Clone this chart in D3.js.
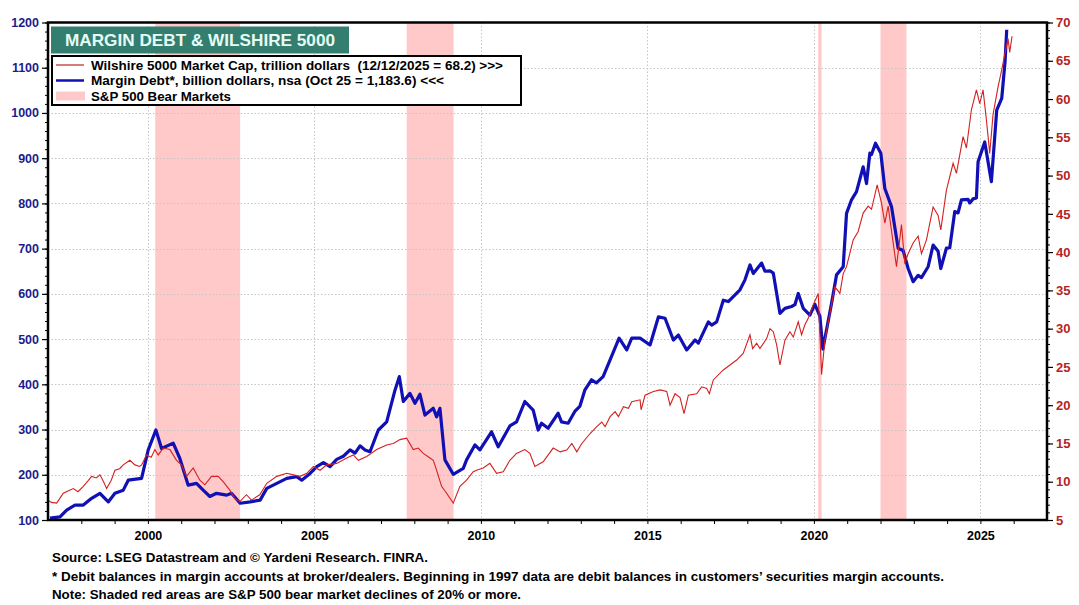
<!DOCTYPE html>
<html><head><meta charset="utf-8">
<script src="https://cdnjs.cloudflare.com/ajax/libs/d3/7.8.5/d3.min.js"></script>
<style>
html,body{margin:0;padding:0;background:#fff;}
svg{display:block;}
text{font-family:"Liberation Sans",Arial,sans-serif;}
</style></head>
<body><svg id="chart" width="1079" height="605"></svg>
<script>
// ---- DATA ----
const xTicks = [2000, 2005, 2010, 2015, 2020, 2025];
const leftTicks = [100,200,300,400,500,600,700,800,900,1000,1100,1200];
const rightTicks = [5,10,15,20,25,30,35,40,45,50,55,60,65,70];
const bearMarkets = [[2000.22,2002.77],[2007.77,2009.18],[2020.13,2020.23],[2022.0,2022.78]];
// Margin debt, billion dollars (left axis) [decimal year, value]
const marginDebt = [
[1997.06,104],[1997.36,107],[1997.56,122],[1997.81,133],[1998.06,133],[1998.31,148],[1998.56,159],[1998.81,140],
[1999.01,159],[1999.26,166],[1999.41,188],[1999.81,192],[2000.01,255],[2000.24,299],[2000.41,258],[2000.76,270],
[2000.96,236],[2001.21,177],[2001.46,181],[2001.66,166],[2001.86,152],[2002.06,159],[2002.37,155],[2002.51,159],
[2002.77,137],[2003.07,140],[2003.37,144],[2003.57,170],[2003.87,181],[2004.17,192],[2004.47,196],[2004.62,188],
[2004.87,203],[2005.07,218],[2005.27,227],[2005.47,218],[2005.67,234],[2005.87,241],[2006.07,255],[2006.22,248],
[2006.37,264],[2006.52,255],[2006.67,251],[2006.92,299],[2007.17,317],[2007.42,387],[2007.55,417],[2007.67,362],
[2007.87,380],[2008.02,358],[2008.17,378],[2008.32,332],[2008.57,347],[2008.67,328],[2008.77,347],[2008.92,233],
[2009.17,201],[2009.47,214],[2009.57,233],[2009.82,266],[2009.97,255],[2010.32,295],[2010.52,262],[2010.87,308],
[2011.07,317],[2011.32,362],[2011.57,343],[2011.72,299],[2011.82,314],[2012.02,303],[2012.32,336],[2012.42,317],
[2012.62,314],[2012.82,340],[2012.97,351],[2013.12,387],[2013.32,410],[2013.47,403],[2013.67,417],[2013.92,461],
[2014.15,502],[2014.38,476],[2014.53,502],[2014.78,502],[2015.08,487],[2015.33,549],[2015.53,546],[2015.78,498],
[2015.93,509],[2016.18,476],[2016.43,498],[2016.53,491],[2016.83,538],[2016.93,531],[2017.08,538],[2017.28,586],
[2017.43,583],[2017.78,609],[2017.93,631],[2018.08,664],[2018.18,645],[2018.43,668],[2018.53,650],[2018.68,651],
[2018.78,646],[2018.98,557],[2019.13,568],[2019.33,572],[2019.43,576],[2019.53,601],[2019.68,568],[2019.88,553],
[2020.03,577],[2020.18,550],[2020.27,478],[2020.53,579],[2020.68,642],[2020.88,660],[2020.98,778],[2021.13,808],
[2021.28,826],[2021.48,881],[2021.58,844],[2021.68,911],[2021.73,908],[2021.85,933],[2022.01,911],[2022.13,833],
[2022.33,793],[2022.53,701],[2022.68,696],[2022.83,656],[2022.98,627],[2023.13,641],[2023.23,636],[2023.43,660],
[2023.58,708],[2023.73,694],[2023.81,656],[2023.98,701],[2024.08,702],[2024.23,782],[2024.33,779],[2024.43,808],
[2024.63,809],[2024.68,801],[2024.78,810],[2024.88,812],[2024.93,892],[2025.13,936],[2025.33,848],[2025.49,1006],
[2025.64,1032],[2025.74,1113],[2025.79,1184]
];
// Wilshire 5000 market cap, trillion dollars (right axis) [decimal year, value]
const wilshire = [
[1997.0,7.6],[1997.1,7.3],[1997.26,7.2],[1997.46,8.5],[1997.6,8.8],[1997.76,9.1],[1997.9,8.7],[1998.06,9.4],
[1998.2,10.1],[1998.31,10.7],[1998.45,10.5],[1998.56,10.9],[1998.68,9.9],[1998.76,9.1],[1998.9,10.2],[1999.01,11.5],
[1999.15,11.7],[1999.26,12.2],[1999.46,12.8],[1999.61,12.2],[1999.75,12.0],[1999.81,12.2],[1999.96,13.5],[2000.1,13.2],
[2000.21,14.2],[2000.31,13.5],[2000.46,14.4],[2000.66,14.2],[2000.86,12.8],[2001.01,12.2],[2001.16,10.7],[2001.36,11.8],
[2001.56,10.2],[2001.71,9.6],[2001.91,10.7],[2002.11,10.7],[2002.26,10.0],[2002.46,8.9],[2002.61,7.8],[2002.76,7.4],
[2002.96,8.3],[2003.11,7.6],[2003.36,8.3],[2003.57,9.8],[2003.87,10.7],[2004.17,11.1],[2004.37,10.9],[2004.57,10.7],
[2004.77,11.1],[2004.97,12.0],[2005.17,11.5],[2005.37,12.2],[2005.67,12.4],[2005.97,13.1],[2006.17,13.5],[2006.32,12.8],
[2006.57,13.3],[2006.87,14.2],[2007.17,14.8],[2007.37,15.0],[2007.57,15.5],[2007.77,15.7],[2007.97,14.2],[2008.12,14.4],
[2008.27,13.7],[2008.47,13.1],[2008.57,12.8],[2008.67,11.5],[2008.82,9.4],[2008.97,8.5],[2009.17,7.2],[2009.37,9.4],
[2009.57,10.2],[2009.77,11.3],[2009.87,11.5],[2010.07,11.8],[2010.27,12.4],[2010.47,11.1],[2010.67,11.3],[2010.87,12.8],
[2011.07,13.7],[2011.32,14.2],[2011.47,13.7],[2011.62,12.0],[2011.87,12.6],[2012.17,14.4],[2012.38,13.9],[2012.58,14.15],
[2012.73,15.0],[2012.88,13.9],[2013.03,15.0],[2013.28,16.3],[2013.48,17.2],[2013.63,17.8],[2013.73,17.2],[2013.88,18.5],
[2014.03,19.15],[2014.13,18.5],[2014.28,19.8],[2014.43,19.6],[2014.53,20.45],[2014.78,20.7],[2014.81,19.4],[2014.93,21.3],
[2015.18,21.8],[2015.38,22.0],[2015.58,21.8],[2015.68,20.0],[2015.83,21.5],[2015.98,21.0],[2016.1,18.9],[2016.23,21.3],
[2016.48,21.5],[2016.63,22.4],[2016.78,22.2],[2016.86,21.5],[2016.98,23.3],[2017.28,24.6],[2017.48,25.25],[2017.68,25.9],
[2017.88,26.8],[2018.08,29.2],[2018.16,27.4],[2018.28,28.1],[2018.38,27.4],[2018.58,28.7],[2018.68,30.0],[2018.78,29.6],
[2018.88,27.9],[2018.98,25.25],[2019.13,28.5],[2019.28,29.6],[2019.38,28.9],[2019.53,30.9],[2019.63,29.2],[2019.73,30.5],
[2019.83,31.35],[2019.98,33.1],[2020.13,34.6],[2020.23,24.0],[2020.33,28.5],[2020.48,32.0],[2020.63,35.5],[2020.78,34.6],
[2020.88,37.2],[2020.98,38.1],[2021.18,41.6],[2021.33,42.7],[2021.48,45.1],[2021.63,46.0],[2021.73,45.6],[2021.9,48.8],
[2022.03,46.4],[2022.13,43.8],[2022.23,46.0],[2022.38,41.2],[2022.48,38.1],[2022.63,43.6],[2022.73,38.5],[2022.83,39.8],
[2022.98,41.2],[2023.13,42.1],[2023.23,39.8],[2023.38,41.6],[2023.58,45.9],[2023.73,44.8],[2023.81,42.9],[2023.98,48.1],
[2024.18,51.6],[2024.28,50.3],[2024.48,55.1],[2024.58,53.6],[2024.73,58.6],[2024.88,61.2],[2024.98,59.4],[2025.08,61.2],
[2025.18,57.3],[2025.28,52.9],[2025.38,58.0],[2025.53,61.6],[2025.63,63.6],[2025.73,65.8],[2025.83,67.9],[2025.88,66.1],
[2025.95,68.2]
];
const titleText = "MARGIN DEBT & WILSHIRE 5000";
const legendLabels = [
  "Wilshire 5000 Market Cap, trillion dollars  (12/12/2025 = 68.2) >>>",
  "Margin Debt*, billion dollars, nsa (Oct 25 = 1,183.6) <<<",
  "S&P 500 Bear Markets"
];
const footnotes = [
  "Source: LSEG Datastream and \u00A9 Yardeni Research. FINRA.",
  "* Debit balances in margin accounts at broker/dealers. Beginning in 1997 data are debit balances in customers\u2019 securities margin accounts.",
  "Note: Shaded red areas are S&P 500 bear market declines of 20% or more."
];

// ---- CHART ----
const svg = d3.select("#chart");
const L = 48, R = 1047, T = 22.5, B = 520;
const x = d3.scaleLinear().domain([1997, 2027]).range([L, R]);
const yL = d3.scaleLinear().domain([100, 1200]).range([B, T]);
const yR = d3.scaleLinear().domain([5, 70]).range([B, T]);

const BLUE = "#1010b4", RED = "#d42020";

// bear market bands
svg.append("g").selectAll("rect").data(bearMarkets).join("rect")
  .attr("x", d => x(d[0])).attr("width", d => x(d[1]) - x(d[0]))
  .attr("y", T).attr("height", B - T).attr("fill", "#ffc9c9");

// grid
const grid = svg.append("g").attr("stroke", "#c4c4c4").attr("stroke-width", 1).attr("stroke-dasharray", "1.5,2");
grid.selectAll("line.h").data(leftTicks.slice(1, -1)).join("line")
  .attr("x1", L).attr("x2", R).attr("y1", d => Math.round(yL(d)) + 0.5).attr("y2", d => Math.round(yL(d)) + 0.5);
grid.selectAll("line.v").data(xTicks).join("line")
  .attr("y1", T).attr("y2", B).attr("x1", d => Math.round(x(d)) + 0.5).attr("x2", d => Math.round(x(d)) + 0.5);

// lines
const lineL = d3.line().x(d => x(d[0])).y(d => yL(d[1]));
const lineR = d3.line().x(d => x(d[0])).y(d => yR(d[1]));
svg.append("path").datum(marginDebt).attr("d", lineL).attr("fill", "none")
  .attr("stroke", BLUE).attr("stroke-width", 3.2).attr("stroke-linejoin", "round");
svg.append("path").datum(wilshire).attr("d", lineR).attr("fill", "none")
  .attr("stroke", RED).attr("stroke-width", 1.1).attr("stroke-linejoin", "miter");

// axes
const axL = svg.append("g").attr("transform", `translate(${L},0)`)
  .call(d3.axisLeft(yL).tickValues(d3.range(100, 1201, 20)).tickSize(3).tickFormat(""));
axL.selectAll(".tick line").attr("stroke", "#000");
axL.select(".domain").remove();
const axL2 = svg.append("g").attr("transform", `translate(${L},0)`)
  .call(d3.axisLeft(yL).tickValues(leftTicks).tickSize(6).tickPadding(3).tickFormat(d3.format("d")));
axL2.select(".domain").remove();
axL2.selectAll(".tick line").attr("stroke", "#000").attr("stroke-width", 1.2);
axL2.selectAll("text").attr("fill", "#1c1c8c").attr("font-size", "12.5px").attr("font-weight", "bold")
  .attr("font-family", "Liberation Sans, Arial, sans-serif");

const axR = svg.append("g").attr("transform", `translate(${R},0)`)
  .call(d3.axisRight(yR).tickValues(d3.range(5, 71, 1)).tickSize(3).tickFormat(""));
axR.select(".domain").remove();
axR.selectAll(".tick line").attr("stroke", "#000");
const axR2 = svg.append("g").attr("transform", `translate(${R},0)`)
  .call(d3.axisRight(yR).tickValues(rightTicks).tickSize(6).tickPadding(3).tickFormat(d3.format("d")));
axR2.select(".domain").remove();
axR2.selectAll(".tick line").attr("stroke", "#000").attr("stroke-width", 1.2);
axR2.selectAll("text").attr("fill", "#b42424").attr("font-size", "13px").attr("font-weight", "bold")
  .attr("font-family", "Liberation Sans, Arial, sans-serif");

const axB = svg.append("g").attr("transform", `translate(0,${B})`)
  .call(d3.axisBottom(x).tickValues(d3.range(1998, 2027, 1)).tickSize(4).tickFormat(""));
axB.select(".domain").remove();
axB.selectAll(".tick line").attr("stroke", "#000");
const axB2 = svg.append("g").attr("transform", `translate(0,${B})`)
  .call(d3.axisBottom(x).tickValues(xTicks).tickSize(0).tickPadding(11).tickFormat(d3.format("d")));
axB2.select(".domain").remove();
axB2.selectAll("text").attr("fill", "#000").attr("font-size", "12.5px").attr("font-weight", "bold")
  .attr("font-family", "Liberation Sans, Arial, sans-serif");

// frame
svg.append("rect").attr("x", L).attr("y", T).attr("width", R - L).attr("height", B - T)
  .attr("fill", "none").attr("stroke", "#000").attr("stroke-width", 2.5);

// title box
svg.append("rect").attr("x", 51).attr("y", 26.5).attr("width", 298).attr("height", 27).attr("fill", "#337e6e");
svg.append("text").attr("x", 65).attr("y", 46).text(titleText)
  .attr("fill", "#e6fbf4").attr("font-size", "16.5px").attr("font-weight", "bold")
  .attr("textLength", 270).attr("lengthAdjust", "spacingAndGlyphs");

// legend box
svg.append("rect").attr("x", 52).attr("y", 56).attr("width", 469).attr("height", 49)
  .attr("fill", "#fff").attr("stroke", "#000").attr("stroke-width", 2);
const legY = [65, 80.5, 96];
const legW = [412, 353, 140];
svg.append("line").attr("x1", 56).attr("x2", 84).attr("y1", legY[0]).attr("y2", legY[0]).attr("stroke", "#c85050").attr("stroke-width", 1.5);
svg.append("line").attr("x1", 56).attr("x2", 84).attr("y1", legY[1]).attr("y2", legY[1]).attr("stroke", BLUE).attr("stroke-width", 2.5);
svg.append("rect").attr("x", 56).attr("y", legY[2] - 4.5).attr("width", 29).attr("height", 9).attr("fill", "#ffc9c9");
svg.append("g").selectAll("text").data(legendLabels).join("text")
  .attr("x", 91).attr("y", (d, i) => legY[i] + 4.5).text(d => d)
  .attr("font-size", "12.5px").attr("font-weight", "bold").attr("fill", "#000")
  .style("white-space", "pre")
  .attr("textLength", (d, i) => legW[i]).attr("lengthAdjust", "spacingAndGlyphs");

// footnotes
const fnY = [562, 581, 599];
const fnW = [376, 892, 469];
svg.append("g").selectAll("text").data(footnotes).join("text")
  .attr("x", 52).attr("y", (d, i) => fnY[i]).text(d => d)
  .attr("font-family", "Liberation Sans Narrow, Arial Narrow, DejaVu Sans Condensed, sans-serif")
  .attr("font-size", "13px").attr("font-weight", "bold").attr("fill", "#000")
  .attr("textLength", (d, i) => fnW[i]).attr("lengthAdjust", "spacingAndGlyphs");
</script></body></html>
